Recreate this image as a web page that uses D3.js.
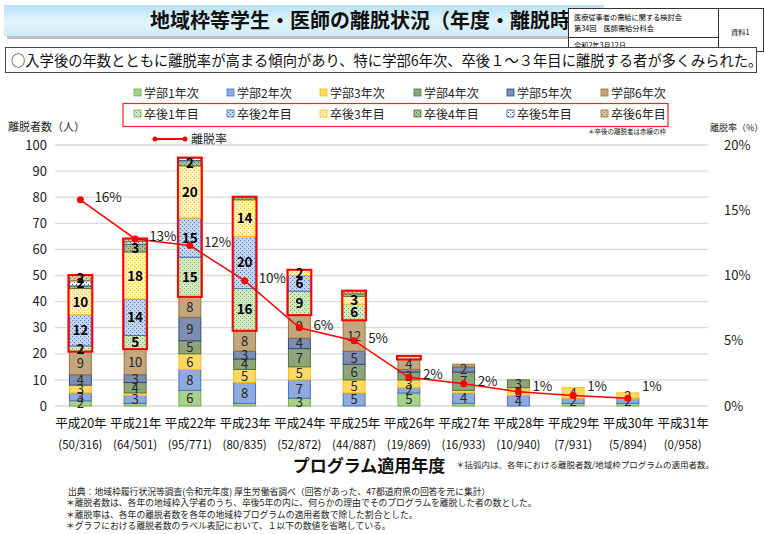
<!DOCTYPE html>
<html><head><meta charset="utf-8">
<script src="https://cdn.jsdelivr.net/npm/d3@7"></script>
<style>
body{margin:0;background:#fff}
svg{display:block}
text{font-family:"Noto Sans CJK JP","Noto Sans",sans-serif}
</style>
</head><body>
<svg id="c" width="764" height="534"></svg>
<script>
// ---------- data ----------
const years = ["平成20年","平成21年","平成22年","平成23年","平成24年","平成25年","平成26年","平成27年","平成28年","平成29年","平成30年","平成31年"];
const ratioLabels = ["(50/316)","(64/501)","(95/771)","(80/835)","(52/872)","(44/887)","(19/869)","(16/933)","(10/940)","(7/931)","(5/894)","(0/958)"];
const seriesNames = ["学部1年次","学部2年次","学部3年次","学部4年次","学部5年次","学部6年次","卒後1年目","卒後2年目","卒後3年目","卒後4年目","卒後5年目","卒後6年目"];
const gakubu1  = [2, 1, 6, 1, 3, 0, 5, 1, 0, 1, 1, 0];
const gakubu2  = [3, 3, 8, 8, 7, 5, 2, 4, 4, 2, 2, 0];
const gakubu3  = [3, 1, 6, 5, 5, 5, 3, 1, 3, 4, 2, 0];
const gakubu4  = [0, 4, 5, 4, 7, 6, 3, 7, 3, 0, 0, 0];
const gakubu5  = [4, 3, 9, 3, 4, 5, 1, 2, 0, 0, 0, 0];
const gakubu6  = [9,10, 8, 8, 9,12, 4, 1, 0, 0, 0, 0];
const sotsugo1 = [2, 5,15,16, 9, 6, 1, 0, 0, 0, 0, 0];
const sotsugo2 = [12,14,15,20,6, 0, 0, 0, 0, 0, 0, 0];
const sotsugo3 = [10,18,20,14,2, 3, 0, 0, 0, 0, 0, 0];
const sotsugo4 = [1, 3, 2, 1, 0, 1, 0, 0, 0, 0, 0, 0];
const sotsugo5 = [2, 1, 1, 0, 0, 0, 0, 0, 0, 0, 0, 0];
const sotsugo6 = [2, 1, 0, 0, 0, 1, 0, 0, 0, 0, 0, 0];
const rateValues = [15.8, 12.8, 12.3, 9.6, 6.0, 5.0, 2.2, 1.7, 1.1, 0.8, 0.6];
const rateLabels = ["16%","13%","12%","10%","6%","5%","2%","2%","1%","1%","1%"];
const leftTicks = [0,10,20,30,40,50,60,70,80,90,100];
const rightTicks = [0,5,10,15,20];
const footnotes = [
  "出典：地域枠履行状況等調査(令和元年度) 厚生労働省調べ（回答があった、47都道府県の回答を元に集計）",
  "＊離脱者数は、各年の地域枠入学者のうち、卒後5年の内に、何らかの理由でそのプログラムを離脱した者の数とした。",
  "＊離脱率は、各年の離脱者数を各年の地域枠プログラムの適用者数で除した割合とした。",
  "＊グラフにおける離脱者数のラベル表記において、１以下の数値を省略している。"
];

const seriesValues = [gakubu1,gakubu2,gakubu3,gakubu4,gakubu5,gakubu6,sotsugo1,sotsugo2,sotsugo3,sotsugo4,sotsugo5,sotsugo6];

// ---------- styles ----------
const solidFill   = ["#a9d18e","#8faadc","#ffd966","#8ea57c","#7e8db0","#c4a67e"];
const solidStroke = ["#70ad47","#4472c4","#ffc000","#4f7336","#2f4b86","#967434"];
const patBg  = ["#d3e8c4","#c4d5ee","#fff0c4","#a9bf9a","#ffffff","#d8c3a4"];
const patDot = ["#70ad47","#4472c4","#ffc000","#4f7336","#2f5597","#967434"];

const svg = d3.select("#c");
const defs = svg.append("defs");
patBg.forEach((bg,i)=>{
  const p = defs.append("pattern").attr("id","pat"+i).attr("width",4).attr("height",4).attr("patternUnits","userSpaceOnUse");
  p.append("rect").attr("width",4).attr("height",4).attr("fill",bg);
  p.append("rect").attr("x",0).attr("y",0).attr("width",1).attr("height",1).attr("fill",patDot[i]);
  p.append("rect").attr("x",2).attr("y",2).attr("width",1).attr("height",1).attr("fill",patDot[i]);
});
const fillOf = i => i<6 ? solidFill[i] : `url(#pat${i-6})`;
const strokeOf = i => i<6 ? solidStroke[i] : patDot[i-6];

const grad = defs.append("linearGradient").attr("id","tg").attr("x1",0).attr("y1",0).attr("x2",0).attr("y2",1);
grad.append("stop").attr("offset","0%").attr("stop-color","#b7e1f4");
grad.append("stop").attr("offset","55%").attr("stop-color","#e3f4fb");
grad.append("stop").attr("offset","100%").attr("stop-color","#cdebf7");
defs.append("clipPath").attr("id","titleClip").append("rect").attr("x",0).attr("y",0).attr("width",568).attr("height",45);

// ---------- header ----------
svg.append("rect").attr("x",7).attr("y",8).attr("width",600).attr("height",31).attr("fill","#9a9a9a").attr("opacity",0.6);
svg.append("rect").attr("x",4).attr("y",5).attr("width",600).attr("height",31).attr("fill","url(#tg)");
svg.append("text").attr("x",150).attr("y",28).attr("font-size",20).attr("font-weight","bold").attr("fill","#111")
  .attr("clip-path","url(#titleClip)")
  .text("地域枠等学生・医師の離脱状況（年度・離脱時期）");
const ib = svg.append("g");
ib.append("rect").attr("x",568.5).attr("y",8.5).attr("width",195).attr("height",43).attr("fill","#fff").attr("stroke","#333");
ib.append("line").attr("x1",718.5).attr("x2",718.5).attr("y1",8.5).attr("y2",51.5).attr("stroke","#333");
ib.append("line").attr("x1",568.5).attr("x2",718.5).attr("y1",37.5).attr("y2",37.5).attr("stroke","#333");
ib.append("text").attr("x",574).attr("y",20).attr("font-size",7.2).text("医療従事者の需給に関する検討会");
ib.append("text").attr("x",574).attr("y",31).attr("font-size",7.2).text("第34回　医師需給分科会");
ib.append("text").attr("x",574).attr("y",47.5).attr("font-size",7.2).text("令和2年3月12日");
ib.append("text").attr("x",731).attr("y",35).attr("font-size",7.2).text("資料1");

svg.append("rect").attr("x",5.5).attr("y",47.5).attr("width",751).attr("height",25).attr("fill","#fff").attr("stroke","#444");
svg.append("text").attr("x",11).attr("y",66).attr("font-size",14.3).attr("fill","#111")
  .text("○入学後の年数とともに離脱率が高まる傾向があり、特に学部6年次、卒後１～３年目に離脱する者が多くみられた。");

// ---------- legend ----------
const legX = [134,227,320,414,507,601];
seriesNames.forEach((n,i)=>{
  const col = i%6, row = Math.floor(i/6);
  const x = legX[col], y = row===0 ? 93 : 114;
  svg.append("rect").attr("x",x).attr("y",y-4).attr("width",7).attr("height",7)
    .attr("fill",fillOf(i)).attr("stroke",strokeOf(i)).attr("stroke-width",0.8);
  svg.append("text").attr("x",x+10).attr("y",y+4.5).attr("font-size",12).attr("fill","#222").text(n);
});
svg.append("rect").attr("x",123).attr("y",103.5).attr("width",545).attr("height",23).attr("fill","none").attr("stroke","#ff2020").attr("stroke-width",1.2);
svg.append("text").attr("x",666).attr("y",134).attr("font-size",6.5).attr("text-anchor","end").attr("fill","#222").text("＊卒後の離脱者は赤線の枠");
svg.append("line").attr("x1",155).attr("x2",185).attr("y1",139).attr("y2",139).attr("stroke","#ff0000").attr("stroke-width",2);
svg.append("circle").attr("cx",155).attr("cy",139).attr("r",2.5).attr("fill","#ff0000");
svg.append("circle").attr("cx",185).attr("cy",139).attr("r",2.5).attr("fill","#ff0000");
svg.append("text").attr("x",191).attr("y",143.5).attr("font-size",12).attr("fill","#222").text("離脱率");

svg.append("text").attr("x",8).attr("y",131).attr("font-size",11).attr("fill","#222").text("離脱者数（人）");
svg.append("text").attr("x",710).attr("y",131).attr("font-size",9).attr("fill","#222").text("離脱率（%）");

// ---------- scales ----------
const x = d3.scalePoint().domain(years).range([53,710]).padding(0.5);
const barW = x.step()*0.4;
const y = d3.scaleLinear().domain([0,100]).range([406,145]);
const yR = d3.scaleLinear().domain([0,20]).range([406,145]);

// gridlines & axes
const gl = svg.append("g");
gl.selectAll("line").data(leftTicks).join("line")
  .attr("x1",55).attr("x2",708).attr("y1",d=>y(d)).attr("y2",d=>y(d))
  .attr("stroke","#d9d9d9").attr("stroke-width",1.3);

const axL = svg.append("g").attr("transform","translate(47,0)")
  .call(d3.axisLeft(y).tickValues(leftTicks).tickSize(0).tickPadding(0));
axL.select(".domain").remove();
axL.selectAll("text").attr("font-size",13).attr("fill","#222").attr("font-family","'Noto Sans CJK JP',sans-serif");

const axR = svg.append("g").attr("transform","translate(724,0)")
  .call(d3.axisRight(yR).tickValues(rightTicks).tickSize(0).tickPadding(0).tickFormat(d=>d+"%"));
axR.select(".domain").remove();
axR.selectAll("text").attr("font-size",13).attr("fill","#222").attr("font-family","'Noto Sans CJK JP',sans-serif");

const axB = svg.append("g").attr("transform","translate(0,406)")
  .call(d3.axisBottom(x).tickSize(0).tickPadding(13));
axB.select(".domain").remove();
axB.selectAll("text").attr("font-size",12.5).attr("fill","#111").attr("font-family","'Noto Sans CJK JP',sans-serif");
svg.append("g").selectAll("text").data(years).join("text")
  .attr("x",d=>x(d)).attr("y",449).attr("text-anchor","middle").attr("font-size",11.5).attr("fill","#111")
  .text((d,i)=>ratioLabels[i]);

// ---------- stacked bars ----------
const rows = years.map((yr,i)=>{ const o={year:yr}; seriesNames.forEach((s,k)=>o[s]=seriesValues[k][i]); return o; });
const stack = d3.stack().keys(seriesNames)(rows);
const bars = svg.append("g");
stack.forEach((layer,k)=>{
  bars.append("g").selectAll("rect").data(layer.filter(d=>d[1]-d[0]>0)).join("rect")
    .attr("x",d=>x(d.data.year)-barW/2).attr("width",barW)
    .attr("y",d=>y(d[1])).attr("height",d=>y(d[0])-y(d[1]))
    .attr("fill",fillOf(k)).attr("stroke",strokeOf(k)).attr("stroke-width",1);
});
// red frames around 卒後 portion
const gakSum = years.map((yr,i)=>d3.sum(seriesValues.slice(0,6),a=>a[i]));
const total = years.map((yr,i)=>d3.sum(seriesValues,a=>a[i]));
svg.append("g").selectAll("rect").data(years.filter((yr,i)=>total[i]>gakSum[i])).join("rect")
  .attr("x",d=>x(d)-barW/2-1).attr("width",barW+2)
  .attr("y",d=>y(total[years.indexOf(d)])-0.5)
  .attr("height",d=>{const i=years.indexOf(d);return y(gakSum[i])-y(total[i])+1;})
  .attr("fill","none").attr("stroke","#ff0000").attr("stroke-width",2);
// value labels
stack.forEach((layer,k)=>{
  svg.append("g").selectAll("text").data(layer.filter(d=>d[1]-d[0]>1)).join("text")
    .attr("x",d=>x(d.data.year)).attr("y",d=>y((d[0]+d[1])/2)+5)
    .attr("text-anchor","middle").attr("font-size",k<6?13:13.5).attr("font-weight",k<6?"normal":"bold")
    .attr("fill",k<6?"#262626":"#000").text(d=>d[1]-d[0]);
});

// ---------- rate line ----------
const rateYears = years.slice(0, rateValues.length);
const line = d3.line().x((d,i)=>x(rateYears[i])).y(d=>yR(d));
svg.append("path").datum(rateValues).attr("d",line).attr("fill","none").attr("stroke","#ff0000").attr("stroke-width",1.5);
svg.append("g").selectAll("circle").data(rateValues).join("circle")
  .attr("cx",(d,i)=>x(rateYears[i])).attr("cy",d=>yR(d)).attr("r",3.5).attr("fill","#ff0000");
svg.append("g").selectAll("text").data(rateValues).join("text")
  .attr("x",(d,i)=>x(rateYears[i])+14).attr("y",d=>Math.min(yR(d)-3,386)+5)
  .attr("font-size",13.5).attr("fill","#222").text((d,i)=>rateLabels[i]);

// ---------- bottom texts ----------
svg.append("text").attr("x",369).attr("y",472).attr("text-anchor","middle").attr("font-size",17).attr("font-weight","bold").attr("fill","#111").text("プログラム適用年度");
svg.append("text").attr("x",456).attr("y",468).attr("font-size",8.5).attr("fill","#222").text("＊括弧内は、各年における離脱者数/地域枠プログラムの適用者数。");
svg.append("g").selectAll("text").data(footnotes).join("text")
  .attr("x",(d,i)=>i===0?68:66).attr("y",(d,i)=>495+i*11.3).attr("font-size",8.8).attr("fill","#222").text(d=>d);
</script>
</body></html>
